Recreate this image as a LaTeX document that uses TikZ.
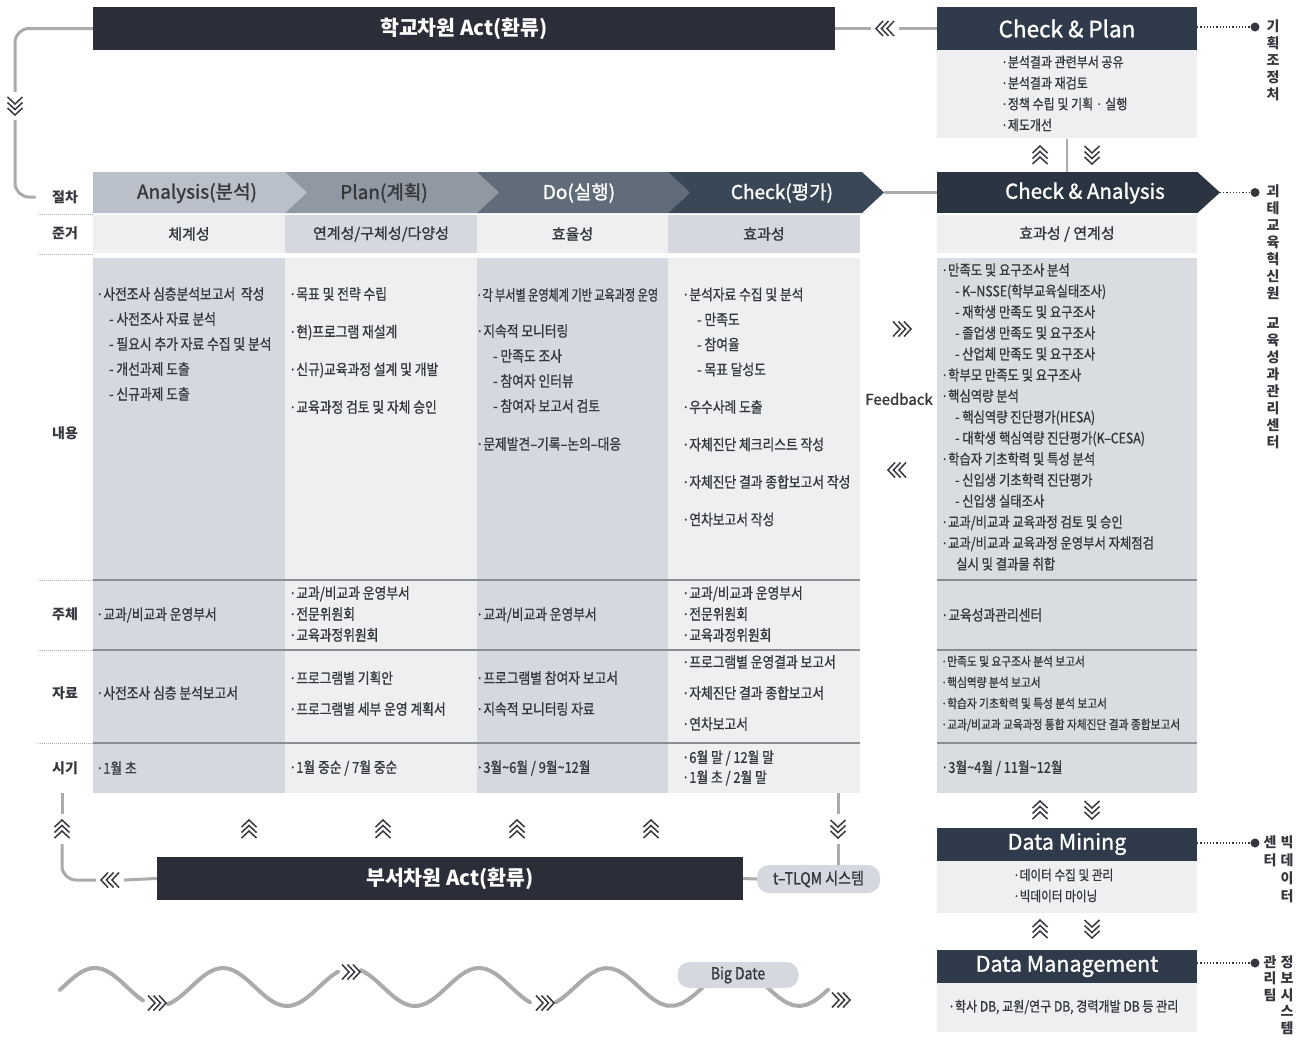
\documentclass[tikz,border=0pt]{standalone}
\usepackage{fontspec}
\setmainfont{Noto Sans CJK KR}
\newfontfamily\narrowkr[FakeStretch=0.85, FakeBold=0.9]{Noto Sans CJK KR}
\newfontfamily\medkr[FakeBold=1.3]{Noto Sans CJK KR}
\usepackage{tikz}
\usetikzlibrary{positioning}

\definecolor{barDark}{HTML}{2B2E38}
\definecolor{boxDark}{HTML}{2F3B4A}
\definecolor{caDark}{HTML}{2B3441}
\definecolor{cellLight}{HTML}{EEEFF1}
\definecolor{cellGray}{HTML}{D5D9DF}
\definecolor{cellRight}{HTML}{D9DCE1}
\definecolor{stepA}{HTML}{B9C0C9}
\definecolor{stepP}{HTML}{8F98A3}
\definecolor{stepD}{HTML}{606C7A}
\definecolor{stepC}{HTML}{3A4757}
\definecolor{flowGray}{HTML}{ABABAB}
\definecolor{ruleGray}{HTML}{8A8D92}
\definecolor{txt}{HTML}{34373C}

\tikzset{
  chev/.pic={
    \foreach \k in {0,1,2}
      \draw[txt, line width=1.5pt] ({\k*5.5-9},-7.5) -- ({\k*5.5-2},0) -- ({\k*5.5-9},7.5);
  },
  flow/.style={flowGray, line width=3pt},
  hair/.style={flowGray, line width=2pt},
  dotlink/.style={txt, line width=1.2pt, dotted},
  rowsep/.style={ruleGray, line width=1.5pt},
  labsep/.style={flowGray, line width=1pt, densely dotted},
  actbar/.style={fill=barDark, text=white, font=\bfseries\fontsize{20.5}{24}\selectfont, minimum height=43, inner sep=0pt},
  boxhead/.style={fill=boxDark, text=white, font=\medkr\fontsize{21.5}{24}\selectfont, minimum width=260, minimum height=43, inner sep=0pt},
  boxbody/.style={fill=cellLight, minimum width=260, inner sep=0pt, anchor=north},
  cell/.style={inner sep=0pt, minimum height=38, text=txt, font=\medkr\fontsize{15}{17}\selectfont},
  colbg/.style={inner sep=0pt, anchor=north west, minimum height=535},
  item/.style={anchor=west, align=left, inner sep=0pt, text=txt, font=\narrowkr\fontsize{15}{25}\selectfont},
  itemR/.style={item, font=\narrowkr\fontsize{14.5}{21}\selectfont},
  rowlbl/.style={text=txt, font=\bfseries\fontsize{14}{16}\selectfont},
  steptxt/.style={font=\medkr\fontsize{19}{22}\selectfont},
  sidelbl/.style={anchor=north, align=center, inner sep=0pt, text=txt, font=\bfseries\fontsize{14}{17}\selectfont},
  pill/.style={fill=cellGray, rounded corners=12pt, text=txt, font=\narrowkr\fontsize{16.5}{18}\selectfont, inner sep=0pt},
  wave/.style={flowGray, line width=4pt, line cap=round},
}

\begin{document}
\begin{tikzpicture}[x=1pt, y=-1pt]
    \useasboundingbox (0,0) rectangle (1305,1039);

    % School level act bar, loop back to the procedure row
    \node[actbar, minimum width=742] (actTop) at (464,28.5) {학교차원 Act(환류)};
    \node[boxhead, font=\medkr\fontsize{22.5}{24}\selectfont] (cpHead) at (1067,28.5) {Check \& Plan};
    \node[boxbody, minimum height=88] (cpBody) at (cpHead.south) {};
    \node[item, font=\narrowkr\fontsize{14.1}{21}\selectfont] (cpText) at (1001,93.5)
        {·분석결과 관련부서 공유\\·분석결과 재검토\\·정책 수립 및 기획 · 실행\\·제도개선};
    \coordinate (chvTop) at (885,28.5);
    \coordinate (chvLeft) at (15,106);
    \pic[rotate=180] at (chvTop) {chev};
    \pic[rotate=-90] at (chvLeft) {chev};
    \draw[flow] (actTop.east) -- ([xshift=-14pt]chvTop);
    \draw[flow] ([xshift=14pt]chvTop) -- (cpHead.west);

    % Row labels
    \node[rowlbl] (lbStep) at (65,197) {절차};
    \node[rowlbl] (lbCrit) at (65,233) {준거};
    \node[rowlbl] (lbBody) at (65,433) {내용};
    \node[rowlbl] (lbWho)  at (65,614) {주체};
    \node[rowlbl] (lbDoc)  at (65,693) {자료};
    \node[rowlbl] (lbTime) at (65,768) {시기};
    \draw[flow, rounded corners=14pt] (actTop.west) -| ([yshift=14pt]chvLeft);
    \draw[flow, rounded corners=14pt] ([yshift=-14pt]chvLeft) |- ([xshift=-13pt]lbStep.west);

    % Procedure header
    \fill[stepA] (93,172) -- (285,172) -- (307,192.5) -- (285,213) -- (93,213) -- cycle;
    \foreach \xa/\xb/\col in {285/477/stepP, 477/668/stepD, 668/862/stepC}
        \fill[\col] (\xa,172) -- (\xb,172) -- (\xb+22,192.5) -- (\xb,213) -- (\xa,213) -- (\xa+22,192.5) -- cycle;
    \node[steptxt, text=txt] (stA) at (197,193) {Analysis(분석)};
    \node[steptxt, text=txt] (stP) at (384,193) {Plan(계획)};
    \node[steptxt, text=white] (stD) at (579,193) {Do(실행)};
    \node[steptxt, text=white] (stC) at (782,193) {Check(평가)};
    \coordinate (stTip) at (884,192.5);

    % Check & Analysis
    \node[boxhead, fill=caDark, minimum height=41] (caBox) at (1067,192.5) {};
    \fill[caDark] (caBox.north east) -- (1220,192.5) -- (caBox.south east) -- cycle;
    \coordinate (caTip) at (1220,192.5);
    \node[text=white, font=\medkr\fontsize{20.5}{24}\selectfont] (caText) at (1085,193) {Check \& Analysis};
    \draw[flow] (stTip) -- (caBox.west);
    \draw[hair] (cpBody.south) -- (caBox.north);
    \pic[rotate=90] at (1040,155) {chev};
    \pic[rotate=-90] at (1092,155) {chev};

    % Criteria row
    \node[cell, fill=cellLight, minimum width=192] (crA) at (189,234) {체계성};
    \node[cell, fill=cellGray, minimum width=192] (crP) at (381,234) {연계성/구체성/다양성};
    \node[cell, fill=cellLight, minimum width=191] (crD) at (572.5,234) {효율성};
    \node[cell, fill=cellGray, minimum width=192] (crC) at (764,234) {효과성};
    \node[cell, fill=cellLight, minimum width=260] (crR) at (1067,234) {효과성 / 연계성};

    % Column backgrounds and row rules
    \node[colbg, fill=cellGray, minimum width=192] (colA) at (93,258) {};
    \node[colbg, fill=cellLight, minimum width=192] (colP) at (285,258) {};
    \node[colbg, fill=cellGray, minimum width=191] (colD) at (477,258) {};
    \node[colbg, fill=cellLight, minimum width=192] (colC) at (668,258) {};
    \node[colbg, fill=cellRight, minimum width=260] (colR) at (937,258) {};
    \foreach \y in {580,650,743} {
        \draw[rowsep] (93,\y) -- (860,\y);
        \draw[rowsep] (937,\y) -- (1197,\y);
        \draw[labsep] (38,\y) -- (93,\y);
    }
    \draw[labsep] (38,214) -- (93,214);
    \draw[labsep] (38,254) -- (93,254);

    % Contents
    \node[item] (ctA) at (96,344)
        {·사전조사 심층분석보고서\ \ 작성\\\hspace*{13pt}- 사전조사 자료 분석\\\hspace*{13pt}- 필요시 추가 자료 수집 및 분석\\\hspace*{13pt}- 개선과제 도출\\\hspace*{13pt}- 신규과제 도출};
    \node[item, font=\narrowkr\fontsize{15}{37.7}\selectfont] (ctP) at (289,350.5)
        {·목표 및 전략 수립\\·현)프로그램 재설계\\·신규)교육과정 설계 및 개발\\·교육과정 검토 및 자체 승인};
    \node[item] (ctD) at (476,369.5)
        {\scalebox{0.87}[1]{·각 부서별 운영체계 기반 교육과정 운영}\\[11pt]·지속적 모니터링\\\hspace*{17pt}- 만족도 조사\\\hspace*{17pt}- 참여자 인터뷰\\\hspace*{17pt}- 참여자 보고서 검토\\[13pt]·문제발견–기록–논의–대응};
    \node[item] (ctC) at (682,407)
        {·분석자료 수집 및 분석\\\hspace*{15pt}- 만족도\\\hspace*{15pt}- 참여율\\\hspace*{15pt}- 목표 달성도\\[12.5pt]·우수사례 도출\\[12.5pt]·자체진단 체크리스트 작성\\[12.5pt]·자체진단 결과 종합보고서 작성\\[12.5pt]·연차보고서 작성};
    \node[itemR] (ctR) at (941,417)
        {·만족도 및 요구조사 분석\\\hspace*{14pt}- K–NSSE(학부교육실태조사)\\\hspace*{14pt}- 재학생 만족도 및 요구조사\\\hspace*{14pt}- 졸업생 만족도 및 요구조사\\\hspace*{14pt}- 산업체 만족도 및 요구조사\\·학부모 만족도 및 요구조사\\·핵심역량 분석\\\hspace*{14pt}- 핵심역량 진단평가(HESA)\\\hspace*{14pt}- 대학생 핵심역량 진단평가(K–CESA)\\·학습자 기초학력 및 특성 분석\\\hspace*{14pt}- 신입생 기초학력 진단평가\\\hspace*{14pt}- 신입생 실태조사\\·교과/비교과 교육과정 검토 및 승인\\·교과/비교과 교육과정 운영부서 자체점검\\\hspace*{15pt}실시 및 결과물 취합};

    % Feedback between the two checks
    \node[text=txt, font=\medkr\fontsize{15}{17}\selectfont] (fb) at (899,399) {Feedback};
    \pic at (902,329) {chev};
    \pic[rotate=180] at (897,470) {chev};

    % Who
    \node[item] (whoA) at (96,615) {·교과/비교과 운영부서};
    \node[item, font=\narrowkr\fontsize{15}{21}\selectfont] (whoP) at (289,614) {·교과/비교과 운영부서\\·전문위원회\\·교육과정위원회};
    \node[item] (whoD) at (476,615) {·교과/비교과 운영부서};
    \node[item, font=\narrowkr\fontsize{15}{21}\selectfont] (whoC) at (682,614) {·교과/비교과 운영부서\\·전문위원회\\·교육과정위원회};
    \node[item] (whoR) at (941,615) {·교육성과관리센터};

    % Documents
    \node[item] (docA) at (96,693) {·사전조사 심층 분석보고서};
    \node[item, font=\narrowkr\fontsize{15}{31}\selectfont] (docP) at (289,693.5) {·프로그램별 기획안\\·프로그램별 세부 운영 계획서};
    \node[item, font=\narrowkr\fontsize{15}{31}\selectfont] (docD) at (476,693.5) {·프로그램별 참여자 보고서\\·지속적 모니터링 자료};
    \node[item, font=\narrowkr\fontsize{15}{31}\selectfont] (docC) at (682,693) {·프로그램별 운영결과 보고서\\·자체진단 결과 종합보고서\\·연차보고서};
    \node[item, font=\narrowkr\fontsize{12.6}{21}\selectfont] (docR) at (941,693.5) {·만족도 및 요구조사 분석 보고서\\·핵심역량 분석 보고서\\·학습자 기초학력 및 특성 분석 보고서\\·교과/비교과 교육과정 통합 자체진단 결과 종합보고서};

    % Time
    \node[item] (tmA) at (96,768) {·1월 초};
    \node[item] (tmP) at (289,768) {·1월 중순 / 7월 중순};
    \node[item] (tmD) at (476,768) {·3월\textasciitilde 6월 / 9월\textasciitilde 12월};
    \node[item, font=\narrowkr\fontsize{15}{20}\selectfont] (tmC) at (682,768) {·6월 말 / 12월 말\\·1월 초 / 2월 말};
    \node[item] (tmR) at (941,768) {·3월\textasciitilde 4월 / 11월\textasciitilde 12월};

    % Department level act bar
    \node[actbar, minimum width=586] (actBot) at (450,878.5) {부서차원 Act(환류)};
    \node[pill, minimum width=123, minimum height=28] (tlqm) at (818.5,879) {t–TLQM 시스템};
    \coordinate (chvBL) at (62,829);
    \coordinate (chvBR) at (838,829);
    \coordinate (chvBack) at (110,880);
    \pic[rotate=90] at (chvBL) {chev};
    \pic[rotate=-90] at (chvBR) {chev};
    \pic[rotate=180] at (chvBack) {chev};
    \foreach \x in {249,383,517,651}
        \pic[rotate=90] at (\x,829) {chev};
    \draw[flow] (colA.south -| chvBL) -- ([yshift=15pt]chvBL);
    \draw[flow, rounded corners=14pt] ([yshift=-15pt]chvBL) |- ([xshift=-14pt]chvBack);
    \draw[flow] ([xshift=14pt]chvBack) -- (actBot.west);
    \draw[flow] (colC.south -| chvBR) -- ([yshift=15pt]chvBR);
    \draw[flow] ([yshift=-15pt]chvBR) -- (tlqm.north -| chvBR);
    \draw[flow] (actBot.east) -- (tlqm.west);

    % Data mining and data management
    \pic[rotate=90] at (1040,810) {chev};
    \pic[rotate=-90] at (1092,810) {chev};
    \node[boxhead, minimum height=33] (dmHead) at (1067,844) {Data Mining};
    \node[boxbody, minimum height=52] (dmBody) at (dmHead.south) {};
    \node[item, font=\narrowkr\fontsize{13.7}{21}\selectfont] (dmText) at (1013,885.5) {·데이터 수집 및 관리\\·빅데이터 마이닝};
    \pic[rotate=90] at (1040,929) {chev};
    \pic[rotate=-90] at (1092,929) {chev};
    \node[boxhead, minimum height=33] (dgHead) at (1067,966.5) {Data Management};
    \node[boxbody, minimum height=49] (dgBody) at (dgHead.south) {};
    \node[item, font=\narrowkr\fontsize{14.2}{21}\selectfont] (dgText) at (948,1007) {·학사 DB, 교원/연구 DB, 경력개발 DB 등 관리};

    % Units on the right
    \coordinate (dCP) at (1255,27);
    \coordinate (dCA) at (1255,192.5);
    \coordinate (dDM) at (1255,843);
    \coordinate (dDG) at (1255,963);
    \draw[dotlink] (cpHead.east |- dCP) -- (dCP);
    \draw[dotlink] (caTip) -- (dCA);
    \draw[dotlink] (dmHead.east |- dDM) -- (dDM);
    \draw[dotlink] (dgHead.east |- dDG) -- (dDG);
    \foreach \d in {dCP,dCA,dDM,dDG}
        \fill[txt] (\d) circle (4.5);
    \node[sidelbl] (uPlan) at (1273,19) {기\\획\\조\\정\\처};
    \node[sidelbl] (uCenter) at (1273,184) {괴\\테\\교\\육\\혁\\신\\원\\[13pt]교\\육\\성\\과\\관\\리\\센\\터};
    \node[sidelbl, font=\bfseries\fontsize{14}{18}\selectfont] (uBig) at (1287,835) {빅\\데\\이\\터};
    \node[sidelbl, font=\bfseries\fontsize{14}{18}\selectfont] (uBig2) at (1270,835) {센\\터};
    \node[sidelbl, font=\bfseries\fontsize{14}{16.5}\selectfont] (uSys) at (1287,955) {정\\보\\시\\스\\템};
    \node[sidelbl, font=\bfseries\fontsize{14}{16.5}\selectfont] (uSys2) at (1270,955) {관\\리\\팀};

    % Data stream at the bottom
    \foreach \xa/\xb in {60/143, 168/338, 361/530, 556/828}
        \draw[wave] plot[domain=\xa:\xb, samples=40] (\x, {987-19*cos(2.8125*(\x-95))});
    \pic at (157,1003) {chev};
    \pic at (351,972) {chev};
    \pic at (545,1003) {chev};
    \pic at (841,1000) {chev};
    \node[pill, minimum width=121, minimum height=26] (bigDate) at (738,975) {Big Date};
\end{tikzpicture}
\end{document}
